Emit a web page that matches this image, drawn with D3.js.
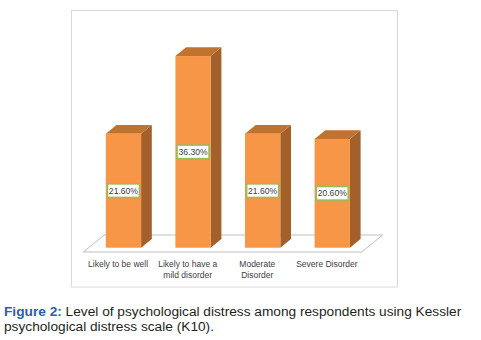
<!DOCTYPE html>
<html><head><meta charset="utf-8">
<script src="https://cdn.jsdelivr.net/npm/d3@7"></script>
<style>body{margin:0;background:#fff;}svg{display:block;}</style>
</head><body>
<svg id="c" width="481" height="340"></svg>
<script>
const categories = [["Likely to be well"], ["Likely to have a", "mild disorder"], ["Moderate", "Disorder"], ["Severe Disorder"]];
const values = [21.6, 36.3, 21.6, 20.6];
const valueLabels = ["21.60%", "36.30%", "21.60%", "20.60%"];
const yDomain = [0, 40];

const svg = d3.select("#c");
// frame
svg.append("rect").attr("x", 71.5).attr("y", 10.5).attr("width", 326).attr("height", 276.5)
  .attr("fill", "#fff").attr("stroke", "#d9d9d9").attr("stroke-width", 1);

const floorFront = 252, floorBack = 235, floorDX = 21;
const x = d3.scaleBand().domain(d3.range(categories.length)).range([83.3, 361.7]).paddingInner(0.49).paddingOuter(0.245);
const y = d3.scaleLinear().domain(yDomain).range([247.7, 36.5]);
const dx = 10.7, dy = 8.7;
const bw = 35.3;

// floor
svg.append("path")
  .attr("d", `M${x.range()[0]},${floorFront} L${x.range()[1]},${floorFront} L${x.range()[1] + floorDX},${floorBack} L${x.range()[0] + floorDX},${floorBack} Z`)
  .attr("fill", "#fff").attr("stroke", "#bfbfbf").attr("stroke-width", 1);

const g = svg.append("g");
values.forEach((v, i) => {
  const cx = x(i) + x.bandwidth() / 2 + dx / 2;
  const x0 = cx - bw / 2, x1 = cx + bw / 2;
  const yt = y(v), yb = y(0);
  // side
  g.append("path").attr("d", `M${x1},${yt} L${x1 + dx},${yt - dy} L${x1 + dx},${yb - dy} L${x1},${yb} Z`).attr("fill", "#a3602b");
  // top
  g.append("path").attr("d", `M${x0},${yt} L${x0 + dx},${yt - dy} L${x1 + dx},${yt - dy} L${x1},${yt} Z`).attr("fill", "#c0722f");
  // front
  g.append("rect").attr("x", x0).attr("y", yt).attr("width", bw).attr("height", yb - yt).attr("fill", "#f79646");
  // label
  const my = (yt + yb) / 2;
  g.append("rect").attr("x", cx - 16).attr("y", my - 6.8).attr("width", 32).attr("height", 13.6)
    .attr("fill", "#fff").attr("stroke", "#9bbb59").attr("stroke-width", 1.6);
  g.append("text").attr("x", cx).attr("y", my + 3.1).attr("text-anchor", "middle")
    .attr("font-family", "Liberation Sans, Arial, sans-serif").attr("font-size", 8.6).attr("fill", "#404040")
    .text(valueLabels[i]);
});

// category labels
categories.forEach((lines, i) => {
  const t = svg.append("text").attr("text-anchor", "middle")
    .attr("font-family", "Liberation Sans, Arial, sans-serif").attr("font-size", 8.5).attr("fill", "#404040");
  lines.forEach((l, j) => {
    t.append("tspan").attr("x", x(i) + x.bandwidth() / 2).attr("y", 267 + j * 11).text(l);
  });
});

// caption
const cap = svg.append("g").attr("font-family", "Liberation Sans, Arial, sans-serif").attr("font-size", 13.7);
const l1 = cap.append("text").attr("x", 4).attr("y", 316).attr("fill", "#231f20");
l1.append("tspan").attr("font-weight", "bold").attr("fill", "#2b5ea7").text("Figure 2:");
l1.append("tspan").text(" Level of psychological distress among respondents using Kessler");
cap.append("text").attr("x", 4).attr("y", 331).attr("fill", "#231f20").text("psychological distress scale (K10).");
</script>
</body></html>
